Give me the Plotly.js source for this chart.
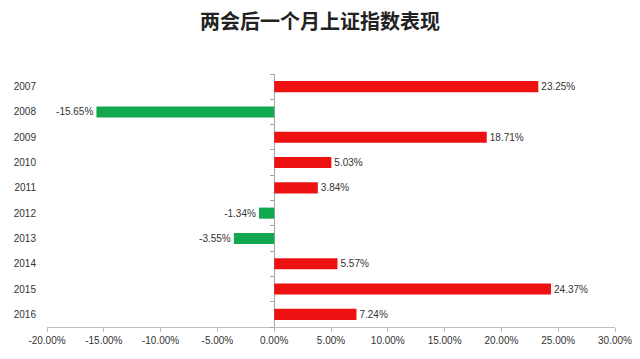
<!DOCTYPE html>
<html>
<head>
<meta charset="utf-8">
<script src="https://cdn.plot.ly/plotly-3.0.1.min.js"></script>
<style>html,body{margin:0;padding:0;background:#fff;}#chart{width:640px;height:359px;}</style>
</head>
<body>
<div id="chart"></div>
<script>
const years = ['2007','2008','2009','2010','2011','2012','2013','2014','2015','2016'];
const returns = [23.25, -15.65, 18.71, 5.03, 3.84, -1.34, -3.55, 5.57, 24.37, 7.24];
const xTicks = [-20, -15, -10, -5, 0, 5, 10, 15, 20, 25, 30];
const titleText = '两会后一个月上证指数表现';

const colors = returns.map(v => v >= 0 ? '#ee1111' : '#11a84f');

const trace = {
  type: 'bar',
  orientation: 'h',
  y: years,
  x: returns,
  marker: {color: colors},
  text: returns.map(v => v.toFixed(2) + '%'),
  textposition: 'outside',
  textfont: {family: 'Liberation Sans, Arial, sans-serif', size: 10, color: '#333'},
  cliponaxis: false,
  hoverinfo: 'none'
};

const layout = {
  width: 640, height: 359,
  margin: {l: 47, r: 25, t: 74, b: 32},
  paper_bgcolor: '#fff', plot_bgcolor: '#fff',
  showlegend: false,
  bargap: 0.56,
  title: {text: titleText, x: 0.5, xanchor: 'center', y: 0.94, yanchor: 'middle',
          font: {family: 'Noto Sans CJK SC', size: 20, color: '#222', weight: 'bold'}},
  xaxis: {
    range: [-20, 30], tickvals: xTicks,
    ticktext: xTicks.map(v => v.toFixed(2) + '%'),
    showgrid: false, zeroline: true, zerolinecolor: '#a6a6a6', zerolinewidth: 1,
    showline: true, linecolor: '#bfbfbf', linewidth: 1,
    ticks: 'outside', ticklen: 4, tickcolor: '#bfbfbf',
    tickfont: {family: 'Liberation Sans, Arial, sans-serif', size: 10, color: '#333'},
    fixedrange: true
  },
  yaxis: {
    type: 'category', autorange: 'reversed',
    showgrid: false, zeroline: false, showline: false, ticks: '',
    ticklabelstandoff: 10,
    tickfont: {family: 'Liberation Sans, Arial, sans-serif', size: 10, color: '#333'},
    fixedrange: true
  },
  yaxis2: {
    overlaying: 'y', anchor: 'free', position: 0.4, side: 'left',
    range: [-0.5, 9.5], autorange: false,
    tickvals: [-0.5,0.5,1.5,2.5,3.5,4.5,5.5,6.5,7.5,8.5,9.5],
    showticklabels: false, showgrid: false, zeroline: false,
    showline: false, ticks: 'outside', ticklen: 4, tickcolor: '#a6a6a6',
    fixedrange: true
  }
};

const helper = {type: 'scatter', x: [0], y: [0], yaxis: 'y2', mode: 'markers',
  marker: {opacity: 0}, hoverinfo: 'none', showlegend: false};

Plotly.newPlot('chart', [trace, helper], layout, {staticPlot: true});
</script>
</body>
</html>
